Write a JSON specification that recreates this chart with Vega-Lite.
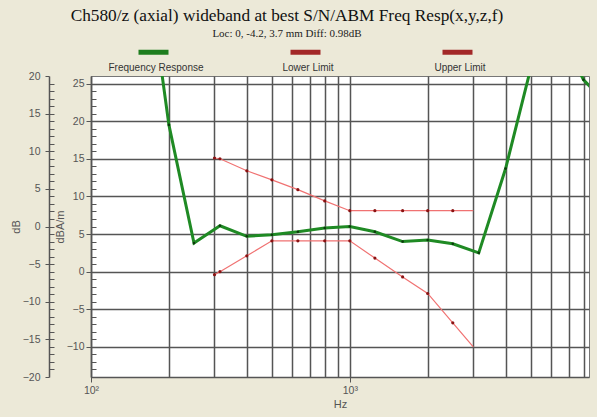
{
  "$schema": "https://vega.github.io/schema/vega-lite/v6.json",
  "width": 498,
  "height": 301,
  "autosize": {"type": "none"},
  "padding": {"left": 91, "top": 76, "right": 8, "bottom": 40},
  "background": "#ece9d8",
  "title": {
    "text": "Ch580/z (axial) wideband at best S/N/ABM Freq Resp(x,y,z,f)",
    "subtitle": "Loc: 0, -4.2, 3.7 mm Diff: 0.98dB",
    "font": "Liberation Serif",
    "fontSize": 17.3,
    "fontWeight": "normal",
    "color": "#111",
    "subtitleFont": "Liberation Serif",
    "subtitleFontSize": 11,
    "subtitleColor": "#222",
    "subtitlePadding": 4,
    "anchor": "middle",
    "frame": "group",
    "dx": -53,
    "offset": 6
  },
  "config": {
    "font": "Liberation Sans",
    "view": {"fill": "white", "stroke": "#777", "strokeWidth": 1}
  },
  "datasets": {
    "resp": [
      {"series": "Frequency Response", "f": 180, "v": 31},
      {"series": "Frequency Response", "f": 200, "v": 19.5},
      {"series": "Frequency Response", "f": 250, "v": 3.8},
      {"series": "Frequency Response", "f": 315, "v": 6.1},
      {"series": "Frequency Response", "f": 400, "v": 4.7},
      {"series": "Frequency Response", "f": 500, "v": 4.9},
      {"series": "Frequency Response", "f": 630, "v": 5.3},
      {"series": "Frequency Response", "f": 800, "v": 5.8},
      {"series": "Frequency Response", "f": 1000, "v": 6.0},
      {"series": "Frequency Response", "f": 1250, "v": 5.3},
      {"series": "Frequency Response", "f": 1600, "v": 4.0},
      {"series": "Frequency Response", "f": 2000, "v": 4.2},
      {"series": "Frequency Response", "f": 2500, "v": 3.7},
      {"series": "Frequency Response", "f": 3150, "v": 2.5},
      {"series": "Frequency Response", "f": 4000, "v": 13.7},
      {"series": "Frequency Response", "f": 5000, "v": 27},
      {"series": "Frequency Response", "f": 6300, "v": 35},
      {"series": "Frequency Response", "f": 7100, "v": 29},
      {"series": "Frequency Response", "f": 8000, "v": 25.5},
      {"series": "Frequency Response", "f": 10000, "v": 22}
    ],
    "limits": [
      {"series": "Lower Limit", "f": 300, "v": -0.4},
      {"series": "Lower Limit", "f": 315, "v": 0},
      {"series": "Lower Limit", "f": 400, "v": 2.1},
      {"series": "Lower Limit", "f": 500, "v": 4.1},
      {"series": "Lower Limit", "f": 630, "v": 4.1},
      {"series": "Lower Limit", "f": 800, "v": 4.1},
      {"series": "Lower Limit", "f": 1000, "v": 4.1},
      {"series": "Lower Limit", "f": 1250, "v": 1.8},
      {"series": "Lower Limit", "f": 1600, "v": -0.7},
      {"series": "Lower Limit", "f": 2000, "v": -2.9},
      {"series": "Lower Limit", "f": 2500, "v": -6.8},
      {"series": "Lower Limit", "f": 3000, "v": -10},
      {"series": "Upper Limit", "f": 300, "v": 15.1},
      {"series": "Upper Limit", "f": 315, "v": 15.0},
      {"series": "Upper Limit", "f": 400, "v": 13.4},
      {"series": "Upper Limit", "f": 500, "v": 12.2},
      {"series": "Upper Limit", "f": 630, "v": 10.9},
      {"series": "Upper Limit", "f": 800, "v": 9.4},
      {"series": "Upper Limit", "f": 1000, "v": 8.1},
      {"series": "Upper Limit", "f": 1250, "v": 8.1},
      {"series": "Upper Limit", "f": 1600, "v": 8.1},
      {"series": "Upper Limit", "f": 2000, "v": 8.1},
      {"series": "Upper Limit", "f": 2500, "v": 8.1},
      {"series": "Upper Limit", "f": 3000, "v": 8.1}
    ]
  },
  "layer": [
    {
      "data": {"name": "resp"},
      "mark": {"type": "line", "color": "#1f8a24", "strokeWidth": 3, "clip": true},
      "encoding": {
        "x": {
          "field": "f", "type": "quantitative",
          "scale": {"type": "log", "domain": [100, 8400], "nice": false},
          "axis": {
            "orient": "bottom",
            "values": [100, 200, 300, 400, 500, 600, 700, 800, 900, 1000, 2000, 3000, 4000, 5000, 6000, 7000, 8000],
            "labels": false,
            "ticks": false,
            "title": null,
            "domainColor": "#555",
            "domainWidth": 1.5,
            "grid": true,
            "gridColor": "#555",
            "gridWidth": 1.5
          }
        },
        "y": {
          "field": "v", "type": "quantitative",
          "scale": {"domain": [-14, 26], "nice": false, "zero": false},
          "axis": {
            "orient": "left",
            "values": [-10, -5, 0, 5, 10, 15, 20, 25],
            "title": "dBA/m",
            "titleFontSize": 11,
            "titleFontWeight": "normal",
            "titleColor": "#555",
            "titlePadding": 1,
            "labelFontSize": 10.5,
            "labelColor": "#555",
            "labelPadding": 2,
            "tickSize": 5,
            "tickColor": "#555",
            "domainColor": "#555",
            "domainWidth": 1.5,
            "grid": true,
            "gridColor": "#555",
            "gridWidth": 1.5
          }
        }
      }
    },
    {
      "data": {"name": "resp"},
      "mark": {"type": "line", "opacity": 0, "clip": true},
      "encoding": {
        "x": {
          "field": "f", "type": "quantitative",
          "axis": {
            "orient": "bottom",
            "values": [100, 1000],
            "labelExpr": "datum.value == 100 ? '10²' : '10³'",
            "title": "Hz",
            "titleFontSize": 11,
            "titleFontWeight": "normal",
            "titleColor": "#555",
            "titlePadding": 3,
            "labelFontSize": 10.5,
            "labelColor": "#555",
            "labelPadding": 3,
            "labelFlush": false,
            "labelOverlap": false,
            "tickSize": 5,
            "tickColor": "#555",
            "domain": false,
            "grid": false
          }
        },
        "y": {"field": "v", "type": "quantitative", "axis": null, "scale": {"domain": [-14, 26], "nice": false, "zero": false}},
        "color": {
          "field": "series", "type": "nominal",
          "scale": {"domain": ["Frequency Response", "Lower Limit", "Upper Limit"], "range": ["#1e7d1e", "#a32828", "#a32828"]},
          "legend": {
            "orient": "none",
            "legendX": 45,
            "legendY": -31,
            "direction": "horizontal",
            "columns": 3,
            "title": null,
            "symbolType": "M-1,-0.7H1",
            "symbolSize": 900,
            "symbolStrokeWidth": 5,
            "symbolOpacity": 1,
            "labelAlign": "center",
            "labelBaseline": "top",
            "labelOffset": -15,
            "labelFontSize": 10,
            "labelColor": "#333",
            "gridAlign": "all",
            "columnPadding": 76
          }
        }
      }
    },
    {
      "data": {"name": "resp"},
      "transform": [{"filter": "datum.v < 26 && datum.f < 8400 && datum.f > 180"}],
      "mark": {"type": "point", "filled": true, "color": "#0c3a0c", "size": 7, "opacity": 1},
      "encoding": {
        "x": {"field": "f", "type": "quantitative", "axis": null},
        "y": {"field": "v", "type": "quantitative", "axis": null, "scale": {"domain": [-14, 26], "nice": false, "zero": false}}
      }
    },
    {
      "data": {"name": "limits"},
      "mark": {"type": "line", "color": "#f07272", "strokeWidth": 1.2, "clip": true},
      "encoding": {
        "x": {"field": "f", "type": "quantitative", "axis": null},
        "y": {"field": "v", "type": "quantitative", "axis": null, "scale": {"domain": [-14, 26], "nice": false, "zero": false}},
        "detail": {"field": "series"}
      }
    },
    {
      "data": {"name": "limits"},
      "transform": [{"filter": "datum.f < 3000"}],
      "mark": {"type": "point", "filled": true, "color": "#8a1212", "size": 10, "opacity": 1},
      "encoding": {
        "x": {"field": "f", "type": "quantitative", "axis": null},
        "y": {"field": "v", "type": "quantitative", "axis": null, "scale": {"domain": [-14, 26], "nice": false, "zero": false}}
      }
    },
    {
      "data": {"values": [{}]},
      "mark": {"type": "rule", "opacity": 0},
      "encoding": {
        "y": {
          "datum": 0, "type": "quantitative",
          "scale": {"domain": [-14, 26], "nice": false, "zero": false},
          "axis": {
            "orient": "left",
            "values": [-13, -12, -11, -10, -9, -8, -7, -6, -5, -4, -3, -2, -1, 0, 1, 2, 3, 4, 5, 6, 7, 8, 9, 10, 11, 12, 13, 14, 15, 16, 17, 18, 19, 20, 21, 22, 23, 24, 25],
            "labels": false, "domain": false, "grid": false, "title": null,
            "tickSize": -5, "tickColor": "#555"
          }
        }
      }
    },
    {
      "data": {"values": [{}]},
      "mark": {"type": "rule", "opacity": 0},
      "encoding": {
        "y": {
          "datum": 0, "type": "quantitative",
          "scale": {"domain": [-20, 20], "nice": false, "zero": false},
          "axis": {
            "orient": "left",
            "offset": 42,
            "values": [-20, -15, -10, -5, 0, 5, 10, 15, 20],
            "title": "dB",
            "titleFontSize": 11,
            "titleFontWeight": "normal",
            "titleColor": "#555",
            "titlePadding": 1,
            "labelFontSize": 10.5,
            "labelColor": "#555",
            "labelPadding": 5,
            "tickSize": 4,
            "tickColor": "#555",
            "domainColor": "#555",
            "domainWidth": 1.5,
            "grid": false
          }
        }
      }
    },
    {
      "data": {"values": [{}]},
      "mark": {"type": "rule", "opacity": 0},
      "encoding": {
        "y": {
          "datum": 0, "type": "quantitative",
          "scale": {"domain": [-20, 20], "nice": false, "zero": false},
          "axis": {
            "orient": "left",
            "offset": 42,
            "values": [-19, -18, -17, -16, -15, -14, -13, -12, -11, -10, -9, -8, -7, -6, -5, -4, -3, -2, -1, 0, 1, 2, 3, 4, 5, 6, 7, 8, 9, 10, 11, 12, 13, 14, 15, 16, 17, 18, 19],
            "labels": false, "domain": false, "grid": false, "title": null,
            "tickSize": -5, "tickColor": "#555"
          }
        }
      }
    }
  ],
  "resolve": {"scale": {"y": "independent"}, "axis": {"x": "independent"}}
}
